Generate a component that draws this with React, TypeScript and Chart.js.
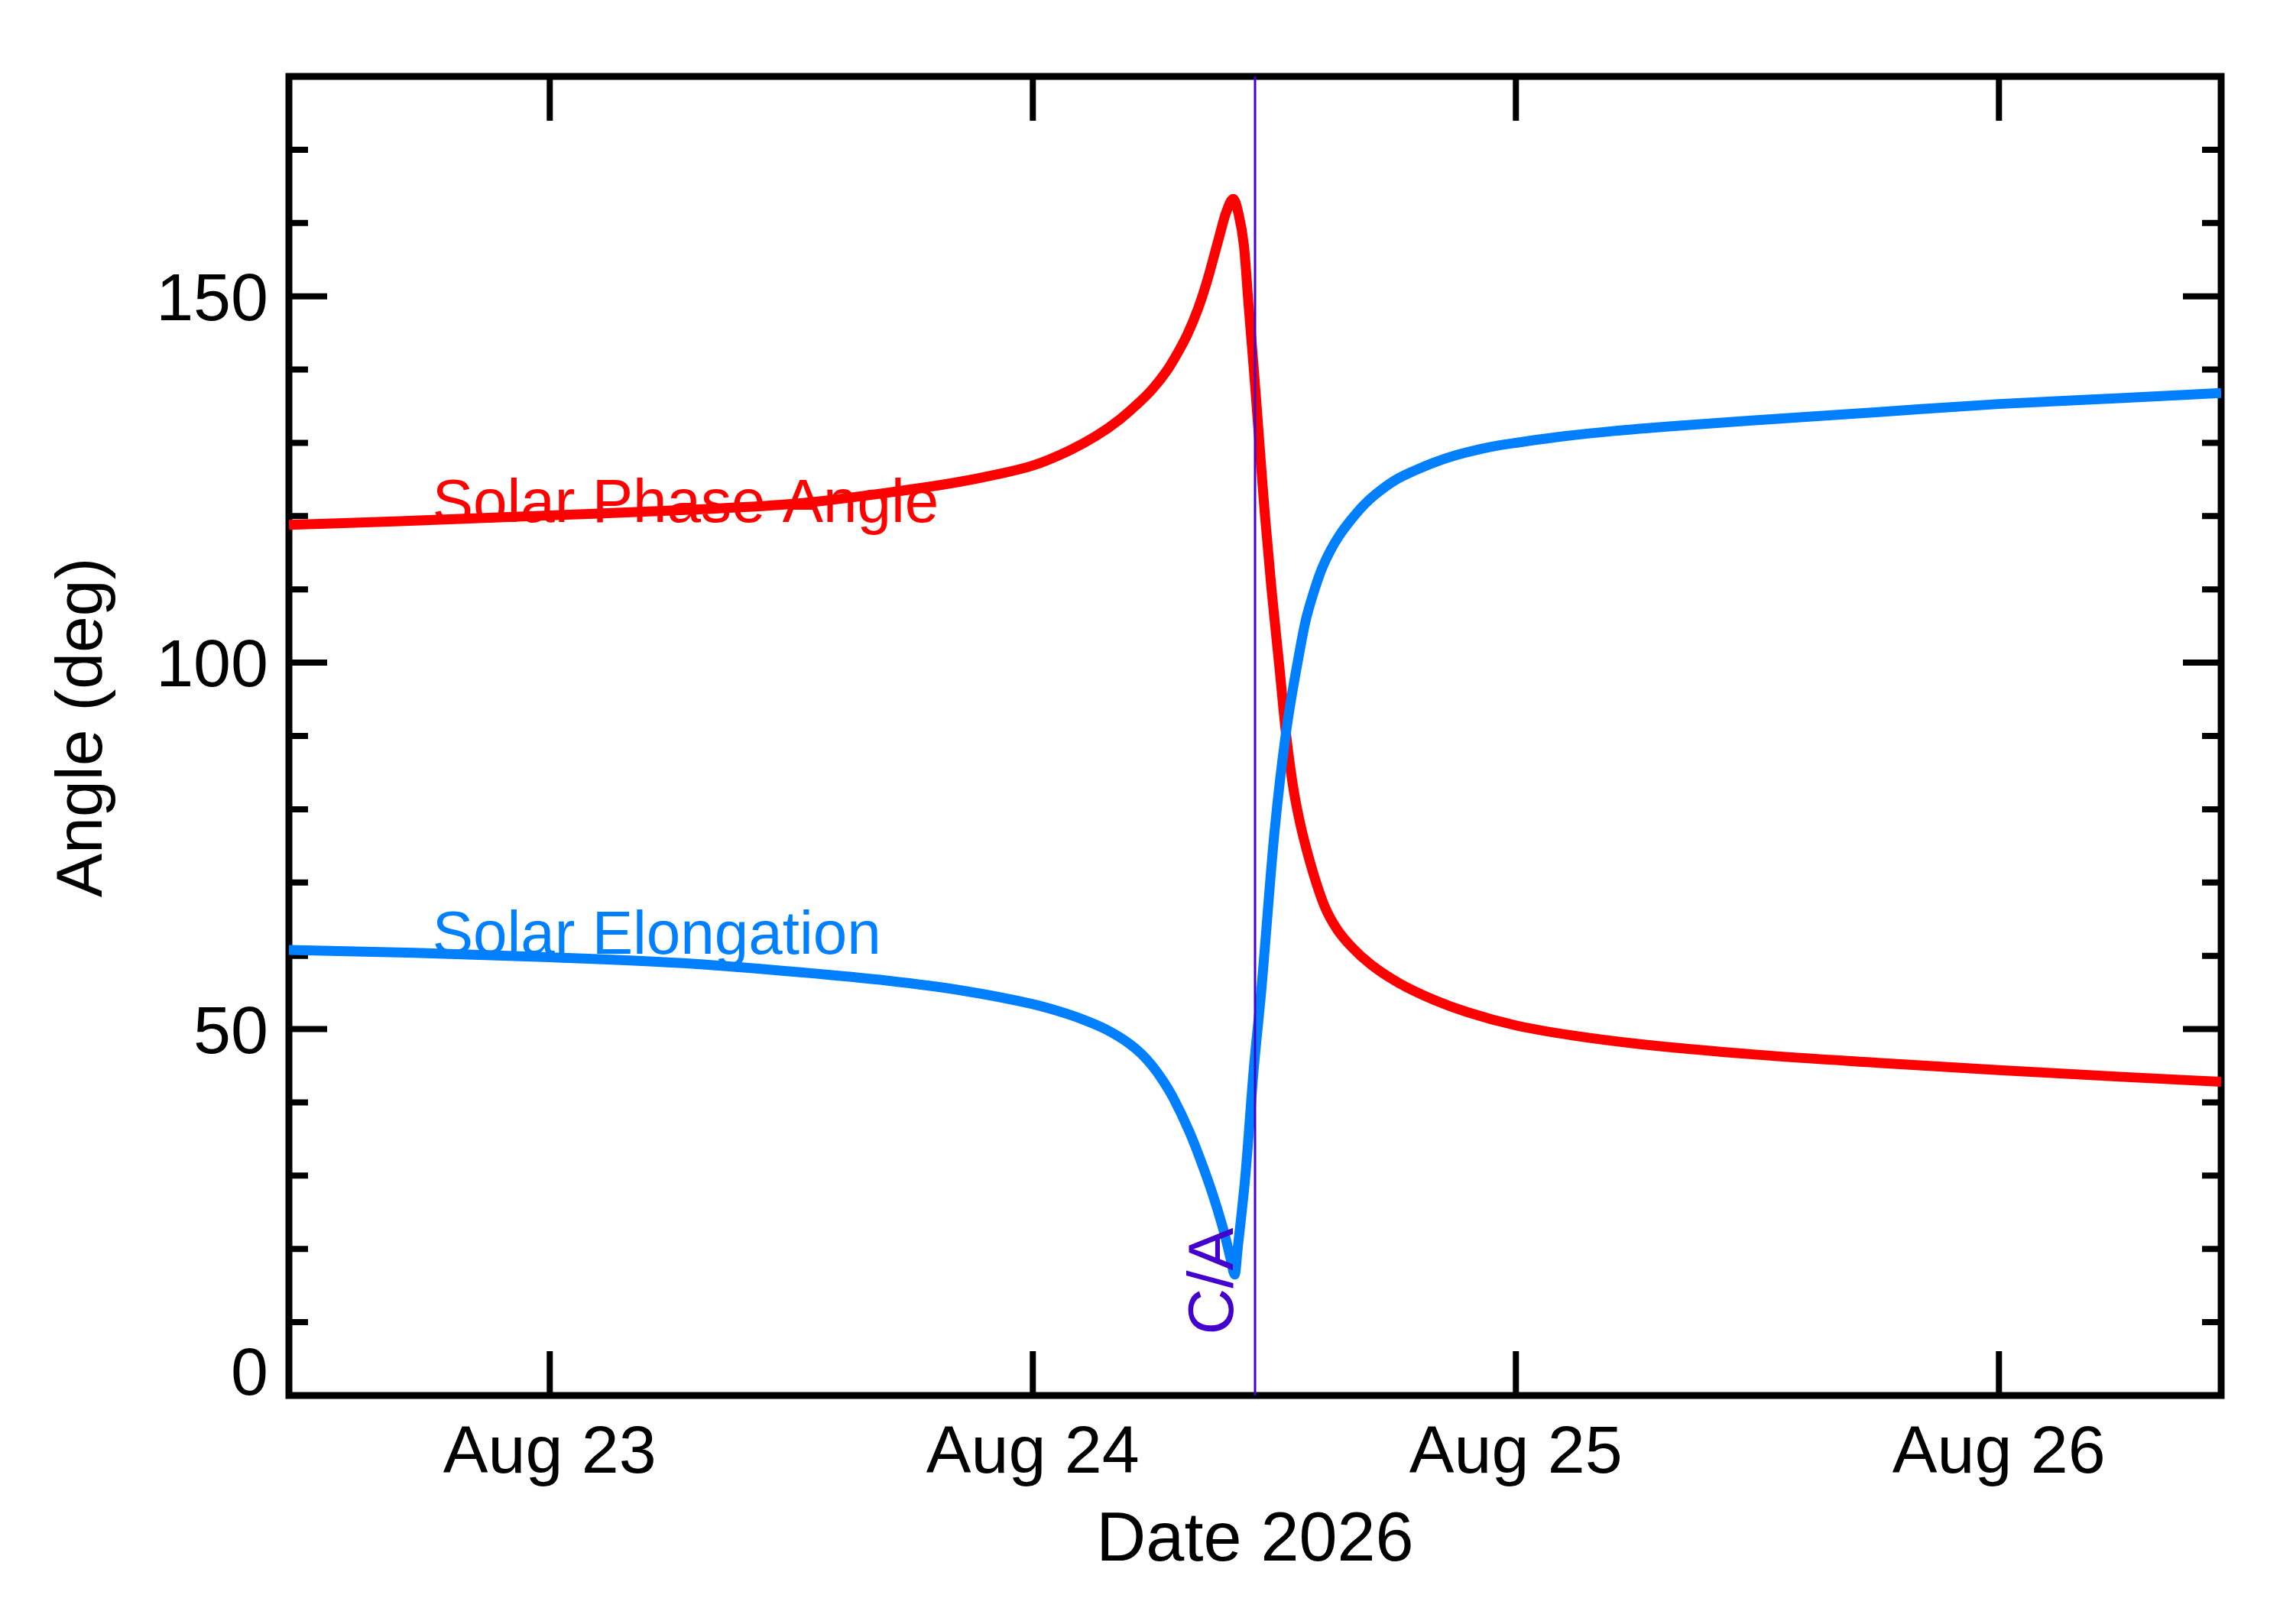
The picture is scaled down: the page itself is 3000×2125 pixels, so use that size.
import React, { useRef, useEffect } from "react";
import { Chart, registerables } from "chart.js";

Chart.register(...registerables);

// time axis in days of August 2026
const X_MIN = 22.46;
const X_MAX = 26.46;
const CLOSE_APPROACH = 24.46;
const dayTicks = [23, 24, 25, 26];
const dayLabels = ["Aug 23", "Aug 24", "Aug 25", "Aug 26"];
const angleTicks = [0, 10, 20, 30, 40, 50, 60, 70, 80, 90, 100, 110, 120, 130, 140, 150, 160, 170, 180];
const angleLabels = ["0", "50", "100", "150"];

const phaseDays = [
  22.46, 22.69, 23.0, 23.3, 23.51, 23.7, 23.85, 23.919, 24.0, 24.077, 24.13, 24.18, 24.215, 24.247,
  24.278, 24.3, 24.32, 24.342, 24.36, 24.385, 24.4, 24.415, 24.425, 24.437, 24.447, 24.458, 24.468,
  24.48, 24.494, 24.51, 24.524, 24.54, 24.555, 24.57, 24.587, 24.605, 24.63, 24.66, 24.7, 24.76,
  24.83, 24.9, 25.0, 25.12, 25.25, 25.5, 25.75, 26.0, 26.25, 26.46,
];
const phaseAngle = [
  118.8, 119.3, 120.1, 120.9, 121.7, 123.2, 124.7, 125.6, 126.9, 129.0, 130.9, 133.2, 135.2, 137.3,
  139.9, 142.3, 144.8, 148.3, 151.9, 157.9, 161.4, 163.3, 161.5, 156.9, 148.5, 139.6, 130.9,
  120.5, 110.1, 99.7, 90.4, 82.6, 77.6, 73.7, 69.9, 66.6, 63.6, 61.2, 58.8, 56.2,
  54.0, 52.3, 50.5, 49.1, 48.0, 46.5, 45.4, 44.4, 43.5, 42.8,
];

const elongDays = [
  22.46, 22.72, 23.0, 23.3, 23.51, 23.7, 23.85, 24.0, 24.05, 24.1, 24.15, 24.2, 24.225, 24.247,
  24.27, 24.29, 24.324, 24.353, 24.375, 24.397, 24.41, 24.418, 24.424, 24.44, 24.457, 24.473, 24.5,
  24.524, 24.553, 24.565, 24.58, 24.597, 24.616, 24.635, 24.66, 24.685, 24.71, 24.75, 24.79, 24.83,
  24.87, 24.93, 24.96, 25.0, 25.1, 25.2, 25.35, 25.5, 25.75, 26.0, 26.25, 26.46,
];
const solarElongation = [
  60.8, 60.4, 59.8, 58.9, 57.8, 56.6, 55.3, 53.4, 52.5, 51.4, 50.0, 48.0, 46.6, 45.0,
  42.9, 40.7, 36.0, 31.1, 26.9, 22.0, 18.5, 16.5, 20.0, 30.0, 44.3, 55.3, 76.7,
  90.4, 101.8, 105.8, 109.3, 112.6, 115.3, 117.4, 119.6, 121.5, 123.0, 124.9, 126.2, 127.3,
  128.2, 129.2, 129.6, 130.0, 130.9, 131.6, 132.4, 133.1, 134.2, 135.3, 136.1, 136.8,
];

const RED = "#ff0000";
const BLUE = "#0080ff";
const PURPLE = "#4400cc";
const FONT = "'Liberation Sans', Arial, Helvetica, sans-serif";

const framePlugin = {
  id: "frame",
  beforeDatasetsDraw(chart: any) {
    const { ctx, chartArea: a, scales } = chart;
    ctx.save();
    ctx.strokeStyle = "#000";
    ctx.lineWidth = 9;
    ctx.strokeRect(a.left, a.top, a.right - a.left, a.bottom - a.top);
    ctx.lineWidth = 8;
    ctx.beginPath();
    for (const t of scales.y.ticks) {
      const py = scales.y.getPixelForValue(t.value);
      const len = t.value % 50 === 0 ? 50 : 25;
      ctx.moveTo(a.left, py);
      ctx.lineTo(a.left + len, py);
      ctx.moveTo(a.right, py);
      ctx.lineTo(a.right - len, py);
    }
    for (const t of scales.x.ticks) {
      const px = scales.x.getPixelForValue(t.value);
      ctx.moveTo(px, a.bottom);
      ctx.lineTo(px, a.bottom - 58);
      ctx.moveTo(px, a.top);
      ctx.lineTo(px, a.top + 58);
    }
    ctx.stroke();
    ctx.restore();
  },
  afterDatasetsDraw(chart: any) {
    const { ctx, chartArea: a, scales } = chart;
    const x = scales.x;
    const y = scales.y;
    ctx.save();
    ctx.fillStyle = "#000";

    // y tick labels
    ctx.font = `88px ${FONT}`;
    ctx.textAlign = "right";
    ctx.textBaseline = "alphabetic";
    angleLabels.forEach((lab) => {
      const v = Number(lab);
      const py = y.getPixelForValue(v);
      ctx.fillText(lab, a.left - 27, v === 0 ? py - 1 : py + 31);
    });

    // x tick labels
    ctx.textAlign = "center";
    dayTicks.forEach((d, i) => {
      ctx.fillText(dayLabels[i], x.getPixelForValue(d), a.bottom + 101);
    });

    // axis titles
    ctx.font = `90px ${FONT}`;
    ctx.fillText("Date 2026", (a.left + a.right) / 2, a.bottom + 216);
    ctx.save();
    ctx.translate(133, (a.top + a.bottom) / 2 - 11);
    ctx.rotate(-Math.PI / 2);
    ctx.font = `86px ${FONT}`;
    ctx.fillText("Angle (deg)", 0, 0);
    ctx.restore();

    // series labels
    ctx.textAlign = "left";
    ctx.font = `80px ${FONT}`;
    ctx.fillStyle = RED;
    ctx.fillText("Solar Phase Angle", x.getPixelForValue(22.757), y.getPixelForValue(119.2));
    ctx.fillStyle = BLUE;
    ctx.fillText("Solar Elongation", x.getPixelForValue(22.757), y.getPixelForValue(60.3));

    // close approach label
    ctx.save();
    ctx.translate(x.getPixelForValue(CLOSE_APPROACH) - 29, y.getPixelForValue(8.3));
    ctx.rotate(-Math.PI / 2);
    ctx.fillStyle = PURPLE;
    ctx.font = `84px ${FONT}`;
    ctx.fillText("C/A", 0, 0);
    ctx.restore();

    ctx.restore();
  },
};

const App = () => {
  const chartRef = useRef<HTMLCanvasElement>(null);
  const chartInstanceRef = useRef<Chart>();

  useEffect(() => {
    const ctx = chartRef.current!.getContext("2d");
    if (chartInstanceRef.current) {
      chartInstanceRef.current.destroy();
    }
    if (!ctx) return;

    chartInstanceRef.current = new Chart(ctx, {
      type: "line",
      data: {
        datasets: [
          {
            label: "C/A",
            data: [
              { x: CLOSE_APPROACH, y: 0 },
              { x: CLOSE_APPROACH, y: 180 },
            ],
            borderColor: PURPLE,
            borderWidth: 3,
            pointRadius: 0,
            order: 0,
          },
          {
            label: "Solar Elongation",
            data: elongDays.map((d, i) => ({ x: d, y: solarElongation[i] })),
            borderColor: BLUE,
            borderWidth: 13,
            pointRadius: 0,
            cubicInterpolationMode: "monotone",
            order: 1,
          },
          {
            label: "Solar Phase Angle",
            data: phaseDays.map((d, i) => ({ x: d, y: phaseAngle[i] })),
            borderColor: RED,
            borderWidth: 13,
            pointRadius: 0,
            cubicInterpolationMode: "monotone",
            order: 2,
          },
        ],
      },
      options: {
        animation: false,
        responsive: false,
        devicePixelRatio: 1,
        layout: { padding: { left: 0, right: 94, top: 100, bottom: 0 } },
        plugins: {
          legend: { display: false },
          tooltip: { enabled: false },
        },
        scales: {
          x: {
            type: "linear",
            min: X_MIN,
            max: X_MAX,
            grid: { display: false },
            border: { display: false },
            ticks: { display: false },
            afterBuildTicks: (scale: any) => {
              scale.ticks = dayTicks.map((v) => ({ value: v }));
            },
            afterFit: (scale: any) => {
              scale.height = 299;
            },
          },
          y: {
            min: 0,
            max: 180,
            grid: { display: false },
            border: { display: false },
            ticks: { display: false },
            afterBuildTicks: (scale: any) => {
              scale.ticks = angleTicks.map((v) => ({ value: v }));
            },
            afterFit: (scale: any) => {
              scale.width = 378;
            },
          },
        },
      },
      plugins: [framePlugin],
    } as any);

    return () => {
      if (chartInstanceRef.current) {
        chartInstanceRef.current.destroy();
      }
    };
  }, []);

  return (
    <div
      style={{
        position: "absolute",
        left: 0,
        top: 0,
        width: "3000px",
        height: "2125px",
        background: "#fff",
      }}
    >
      <canvas ref={chartRef} width={3000} height={2125} />
    </div>
  );
};

export default App;
